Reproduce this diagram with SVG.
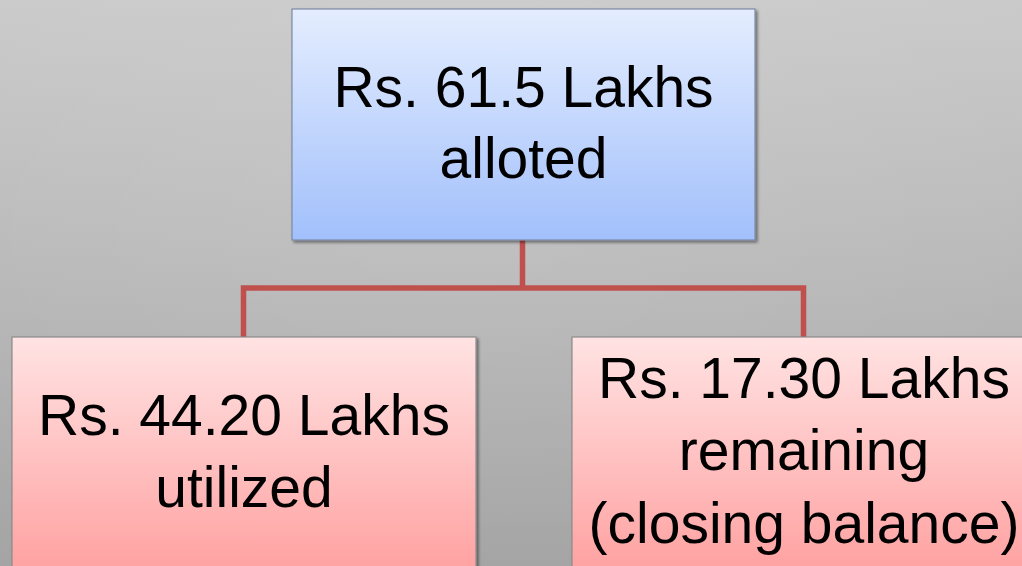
<svg xmlns="http://www.w3.org/2000/svg" width="1022" height="566" viewBox="0 0 1022 566">
  <defs>
    <linearGradient id="bg" x1="0" y1="0" x2="0" y2="1">
      <stop offset="0" stop-color="#cacaca"/>
      <stop offset="1" stop-color="#a4a4a4"/>
    </linearGradient>
    <radialGradient id="bgr" cx="0.45" cy="0.35" r="0.7">
      <stop offset="0" stop-color="#ffffff" stop-opacity="0.10"/>
      <stop offset="1" stop-color="#ffffff" stop-opacity="0"/>
    </radialGradient>
    <linearGradient id="blue" x1="0" y1="0" x2="0" y2="1">
      <stop offset="0" stop-color="#e4edfe"/>
      <stop offset="1" stop-color="#a2c0fc"/>
    </linearGradient>
    <linearGradient id="pink" x1="0" y1="0" x2="0" y2="1">
      <stop offset="0" stop-color="#ffe3e3"/>
      <stop offset="1" stop-color="#ffa2a2"/>
    </linearGradient>
    <filter id="shadow" x="-5%" y="-5%" width="115%" height="115%">
      <feGaussianBlur in="SourceAlpha" stdDeviation="1.5"/>
      <feOffset dx="2" dy="2" result="b"/>
      <feComponentTransfer><feFuncA type="linear" slope="0.45"/></feComponentTransfer>
      <feMerge><feMergeNode/><feMergeNode in="SourceGraphic"/></feMerge>
    </filter>
  </defs>
  <style>
    .lbl { font-family: "Liberation Sans", Arial, sans-serif; font-size: 57px; fill: #000; text-anchor: middle; }
    .box { filter: url(#shadow); stroke-width: 1.2; }
    .conn { fill: none; stroke: #c0504d; stroke-width: 5.5; }
  </style>
  <rect x="0" y="0" width="1022" height="566" fill="url(#bg)"/>
  <rect x="0" y="0" width="1022" height="566" fill="url(#bgr)"/>

  <g id="connectors">
    <path class="conn" d="M522.5 240 V288 M243.5 337 V288 H803.5 V337"/>
  </g>

  <g id="node-allotted">
    <rect class="box" x="292" y="9" width="463" height="231" fill="url(#blue)" stroke="#7d8aa3"/>
    <text class="lbl" x="523.5" y="107">Rs. 61.5 Lakhs</text>
    <text class="lbl" x="523.5" y="178">alloted</text>
  </g>

  <g id="node-utilized">
    <rect class="box" x="12" y="337" width="464" height="231" fill="url(#pink)" stroke="#8c8c8c"/>
    <text class="lbl" x="244" y="435">Rs. 44.20 Lakhs</text>
    <text class="lbl" x="244" y="507">utilized</text>
  </g>

  <g id="node-remaining">
    <rect class="box" x="572" y="337" width="464" height="231" fill="url(#pink)" stroke="#8c8c8c"/>
    <text class="lbl" x="804" y="398">Rs. 17.30 Lakhs</text>
    <text class="lbl" x="804" y="470">remaining</text>
    <text class="lbl" x="804" y="543">(closing balance)</text>
  </g>
</svg>
